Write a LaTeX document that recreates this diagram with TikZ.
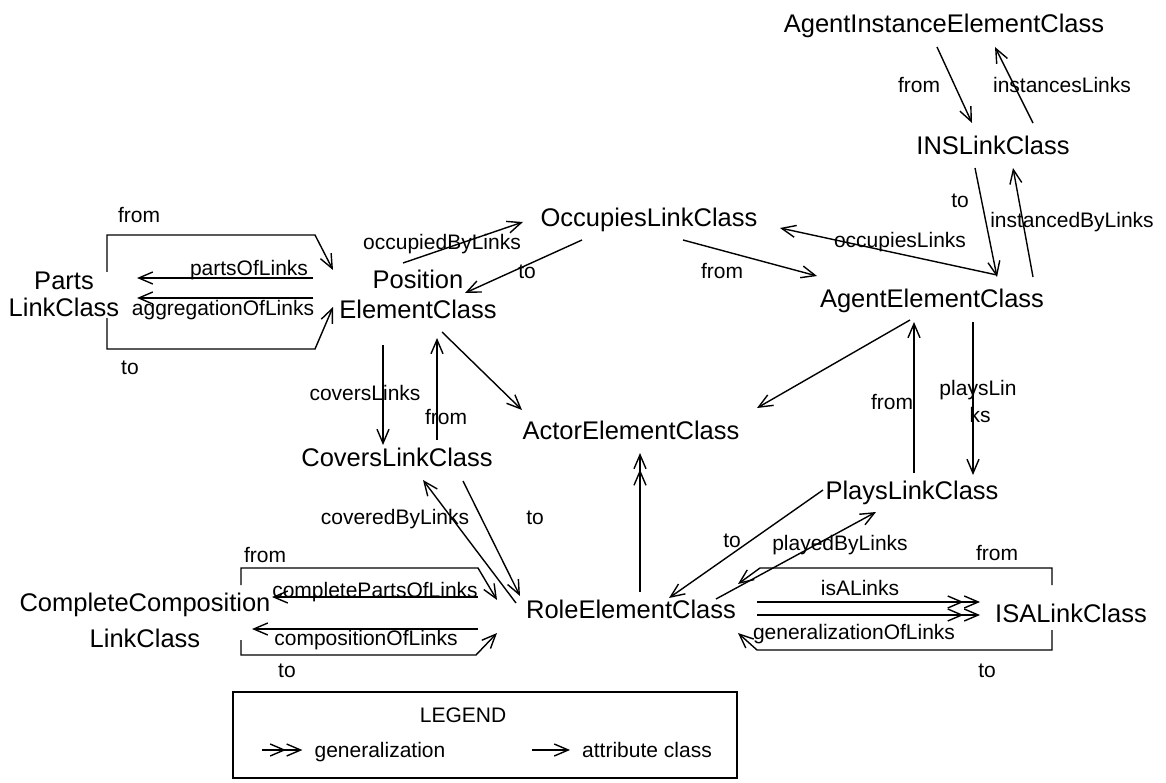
\documentclass[tikz,border=0pt]{standalone}
\usepackage{fontspec}
\setmainfont{Liberation Sans}
\usetikzlibrary{arrows.meta}
\newcommand\ndfont{\fontsize{25.5}{30}\selectfont}
\newcommand\lbfont{\fontsize{21}{24}\selectfont}
\tikzset{
  cls/.style={font=\ndfont, inner sep=0pt, text height=18.3pt, text depth=0pt},
  clstwo/.style={font=\ndfont, inner sep=0pt, align=center},
  lbl/.style={font=\lbfont, inner sep=0pt, text height=15pt, text depth=0pt},
  barb/.tip={Straight Barb[length=14pt,width=12pt]},
  attr/.style={line width=1.4pt, -barb},
  gen/.style={line width=1.4pt, -{barb[] barb[]}},
}
\begin{document}
\begin{tikzpicture}[x=1pt,y=-1pt]
\useasboundingbox (0,0) rectangle (1166,783);
\fill[white] (0,0) rectangle (1166,783);

% classes
\node[cls] (aie) at (944,23) {AgentInstanceElementClass};
\node[cls] (ins) at (993,145) {INSLinkClass};
\node[cls] (occ) at (649,217) {OccupiesLinkClass};
\node[cls] (agent) at (932,298) {AgentElementClass};
\node[clstwo] (pos) at (418,294) {Position\\ElementClass};
\node[clstwo] (parts) at (64,294) {Parts\\[-3pt]LinkClass};
\node[cls] (covers) at (397,457) {CoversLinkClass};
\node[cls] (actor) at (631,430) {ActorElementClass};
\node[cls] (plays) at (912,490) {PlaysLinkClass};
\node[cls] (role) at (631,609) {RoleElementClass};
\node[cls] (isa) at (1071,613) {ISALinkClass};
\node[clstwo] (comp) at (145,620) {CompleteComposition\\[6pt]LinkClass};

% AgentInstance / INS
\draw[attr] ([shift={(-7,24)}]aie.center) -- ([shift={(-21,-22)}]ins.center);
\draw[attr] ([shift={(40,-22)}]ins.center) -- ([shift={(51,24)}]aie.center);
\node[lbl] (l1) at (919,85) {from};
\node[lbl] (l2) at (1062,85) {instancesLinks};

% INS / Agent
\draw[attr] ([shift={(-18,23)}]ins.center) -- ([shift={(65,-21)}]agent.center);
\draw[attr] ([shift={(101,-21)}]agent.center) -- ([shift={(20,23)}]ins.center);
\node[lbl] (l3) at (960,200) {to};
\node[lbl] (l4) at (1072,220) {instancedByLinks};

% Occupies
\draw[attr] ([shift={(65,-23)}]agent.center) -- ([shift={(131,11)}]occ.center);
\draw[attr] ([shift={(34,23)}]occ.center) -- ([shift={(-115,-22)}]agent.center);
\draw[attr] ([shift={(-15,-31)}]pos.center) -- ([shift={(-126,5)}]occ.center);
\draw[attr] ([shift={(-67,23)}]occ.center) -- ([shift={(47,-1)}]pos.center);
\node[lbl] (l5) at (900,240) {occupiesLinks};
\node[lbl] (l6) at (722,271) {from};
\node[lbl] (l7) at (442,242) {occupiedByLinks};
\node[lbl] (l8) at (527,271) {to};

% Parts
\draw[attr] ([shift={(43,-22)}]parts.center) |- ([shift={(-103,-59)}]pos.center) -- ([shift={(-85,-24)}]pos.center);
\draw[attr] ([shift={(-105,-16)}]pos.center) -- ([shift={(73,-16)}]parts.center);
\draw[attr] ([shift={(-105,4)}]pos.center) -- ([shift={(73,4)}]parts.center);
\draw[attr] ([shift={(43,24)}]parts.center) |- ([shift={(-103,55)}]pos.center) -- ([shift={(-85,13)}]pos.center);
\node[lbl] (l9) at (139,215) {from};
\node[lbl] (l10) at (249,268) {partsOfLinks};
\node[lbl] (l11) at (223,308) {aggregationOfLinks};
\node[lbl] (l12) at (130,367) {to};

% Covers
\draw[attr] ([shift={(-35,51)}]pos.center) -- ([shift={(-14,-12)}]covers.center);
\draw[attr] ([shift={(40,-17)}]covers.center) -- ([shift={(19,44)}]pos.center);
\node[lbl] (l13) at (365,393) {coversLinks};
\node[lbl] (l14) at (446,417) {from};

% Actor
\draw[attr] ([shift={(24,38)}]pos.center) -- ([shift={(-109,-20)}]actor.center);
\draw[attr] ([shift={(-22,22)}]agent.center) -- ([shift={(126,-22)}]actor.center);
\draw[gen] ([shift={(9,-17)}]role.center) -- ([shift={(9,23)}]actor.center);

% Plays
\draw[attr] ([shift={(41,24)}]agent.center) -- ([shift={(61,-15)}]plays.center);
\draw[attr] ([shift={(2,-17)}]plays.center) -- ([shift={(-18,24)}]agent.center);
\node[lbl] (l15) at (978,388) {playsLin};
\node[lbl] (l16) at (980,415) {ks};
\node[lbl] (l17) at (892,402) {from};

% Covers / Role
\draw[attr] ([shift={(66,24)}]covers.center) -- ([shift={(-111,-13)}]role.center);
\draw[attr] ([shift={(-115,-6)}]role.center) -- ([shift={(26,23)}]covers.center);
\node[lbl] (l18) at (395,517) {coveredByLinks};
\node[lbl] (l19) at (535,517) {to};

% Plays / Role
\draw[attr] ([shift={(-89,0)}]plays.center) -- ([shift={(38,-11)}]role.center);
\draw[attr] ([shift={(85,-10)}]role.center) -- ([shift={(-36,22)}]plays.center);
\node[lbl] (l20) at (732,540) {to};
\node[lbl] (l21) at (840,543) {playedByLinks};

% ISA
\draw[attr] ([shift={(-19,-28)}]isa.center) |- ([shift={(129,-41)}]role.center) -- ([shift={(107,-25)}]role.center);
\draw[gen] ([shift={(126,-7)}]role.center) -- ([shift={(-91,-11)}]isa.center);
\draw[gen] ([shift={(126,6)}]role.center) -- ([shift={(-91,2)}]isa.center);
\draw[attr] ([shift={(-19,17)}]isa.center) |- ([shift={(126,41)}]role.center) -- ([shift={(107,24)}]role.center);
\node[lbl] (l22) at (997,553) {from};
\node[lbl] (l23) at (860,588) {isALinks};
\node[lbl] (l24) at (854,632) {generalizationOfLinks};
\node[lbl] (l25) at (987,670) {to};

% CompleteComposition
\draw[attr] ([shift={(96,-35)}]comp.center) |- ([shift={(-153,-41)}]role.center) -- ([shift={(-134,-9)}]role.center);
\draw[attr] ([shift={(-153,-12)}]role.center) -- ([shift={(127,-23)}]comp.center);
\draw[attr] ([shift={(-153,20)}]role.center) -- ([shift={(107,9)}]comp.center);
\draw[attr] ([shift={(96,20)}]comp.center) |- ([shift={(-155,46)}]role.center) -- ([shift={(-134,24)}]role.center);
\node[lbl] (l26) at (265,555) {from};
\node[lbl] (l27) at (375,590) {completePartsOfLinks};
\node[lbl] (l28) at (366,638) {compositionOfLinks};
\node[lbl] (l29) at (287,670) {to};

% legend
\node[draw, line width=1.4pt, minimum width=504pt, minimum height=86pt, inner sep=0pt] (legend) at (485,735) {};
\node[lbl] (legtitle) at (463,715) {LEGEND};
\node[lbl] (leggen) at (380,750) {generalization};
\node[lbl] (legattr) at (647,750) {attribute class};
\draw[gen] ([xshift=-52pt]leggen.west) -- ([xshift=-12pt]leggen.west);
\draw[attr] ([xshift=-50pt]legattr.west) -- ([xshift=-12pt]legattr.west);
\end{tikzpicture}
\end{document}
